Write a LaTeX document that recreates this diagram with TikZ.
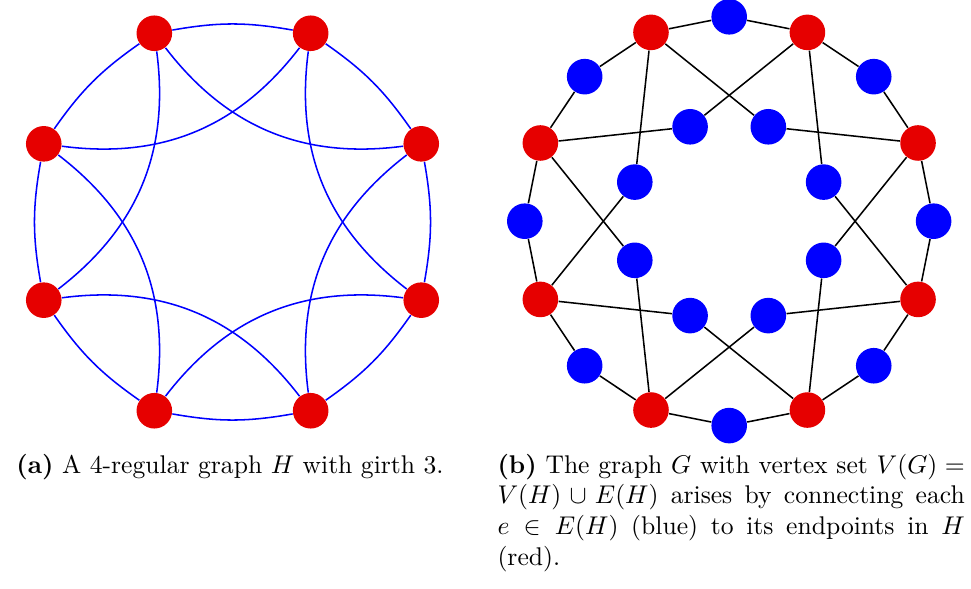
\documentclass[tikz,border=0pt]{standalone}
\usepackage{amsmath}
\definecolor{vred}{RGB}{230,0,0}
\definecolor{vblue}{RGB}{0,0,255}
\pgfdeclarelayer{edgelayer}
\pgfsetlayers{edgelayer,main}
\begin{document}
\begin{tikzpicture}[x=0.3906pt,y=0.3906pt,
  rnode/.style={circle,fill=vred,inner sep=0pt,minimum size=13.9pt},
  bnode/.style={circle,fill=vblue,inner sep=0pt,minimum size=13.9pt},
  hedge/.style={draw=vblue,line width=0.6pt},
  gedge/.style={draw=black,line width=0.6pt}]
\useasboundingbox (0,0) rectangle (971,-589);
% left graph H
\foreach \k in {0,...,7}{
  \node[rnode] (L\k) at ({232.5+204.3*cos(112.5-45*\k)},{-222+204.3*sin(112.5-45*\k)}) {};
}
% right graph G
\foreach \k in {0,...,7}{
  \node[rnode] (R\k) at ({729.2+204.4*cos(112.5-45*\k)},{-221.2+204.4*sin(112.5-45*\k)}) {};
  \node[bnode] (O\k) at ({729.2+204.4*cos(90-45*\k)},{-221.2+204.4*sin(90-45*\k)}) {};
  \node[bnode] (I\k) at ({729.2+102.2*cos(112.5-45*\k)},{-221.2+102.2*sin(112.5-45*\k)}) {};
}
\begin{pgfonlayer}{edgelayer}
\foreach \k in {0,...,7}{
  \pgfmathtruncatemacro\nk{mod(\k+1,8)}
  \pgfmathtruncatemacro\mk{mod(\k+2,8)}
  \pgfmathtruncatemacro\pk{mod(\k+7,8)}
  \draw[hedge] (L\k) to[bend left=10] (L\nk);
  \draw[hedge] (L\k) to[bend right=30] (L\mk);
  \draw[gedge] (R\k) -- (O\k);
  \draw[gedge] (O\k) -- (R\nk);
  \draw[gedge] (I\k) -- (R\pk);
  \draw[gedge] (I\k) -- (R\nk);
}
\end{pgfonlayer}
% captions
\node[anchor=base,inner sep=0pt] (capa) at (230,-473) {\textbf{(a)} A 4-regular graph $H$ with girth 3.};
\node[anchor=base west,inner sep=0pt] (capb) at (497,-473) {\parbox[t]{182.5pt}{\textbf{(b)} The graph $G$ with vertex set $V(G) =$\linebreak $V(H) \cup E(H)$ arises by connecting each\linebreak $e \in E(H)$ (blue) to its endpoints in $H$\linebreak (red).}};
\end{tikzpicture}
\end{document}
